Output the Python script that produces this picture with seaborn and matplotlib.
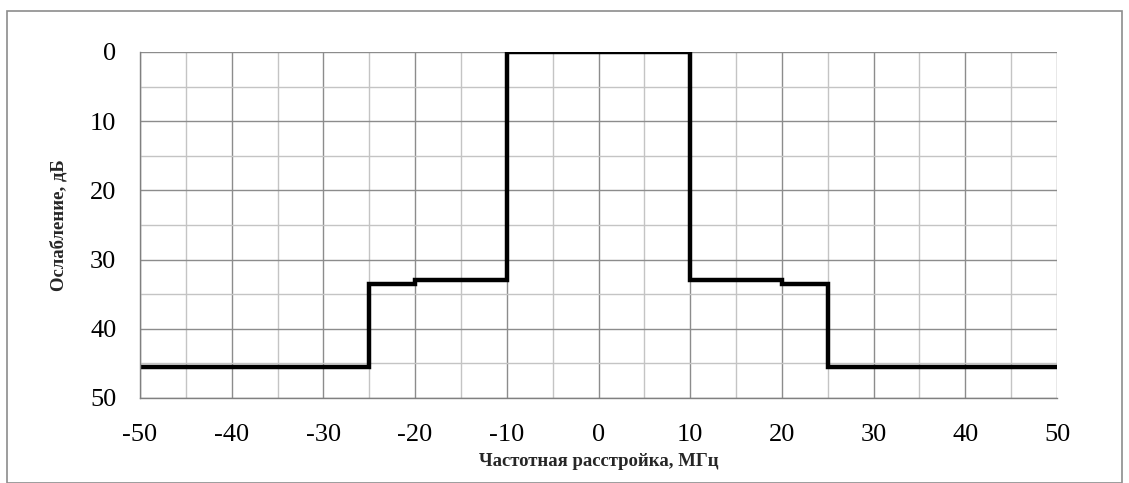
import matplotlib
matplotlib.use("Agg")
import matplotlib.pyplot as plt
import matplotlib.patches as patches
import seaborn as sns
import pandas as pd

# Step mask: frequency edges (MHz) and attenuation (dB) on each segment
freq_edges = [-50, -25, -20, -10, 10, 20, 25, 50]
atten_db = [45.5, 33.5, 33, 0, 33, 33.5, 45.5]

# last value repeated so steps-post draws the final segment
df = pd.DataFrame({"freq": freq_edges, "atten": atten_db + [atten_db[-1]]})

sns.set_theme(style="white")
plt.rcParams['font.family'] = ['Liberation Serif', 'DejaVu Serif']
plt.rcParams['axes.unicode_minus'] = False

fig = plt.figure(figsize=(11.29, 4.83), dpi=100)
ax = fig.add_axes([140 / 1129, 1 - 398 / 483, (1057 - 140) / 1129, (398 - 52) / 483])

sns.lineplot(data=df, x="freq", y="atten", ax=ax, color="black", linewidth=3.2,
             drawstyle="steps-post", sort=False, solid_joinstyle="miter")

ax.set_xlim(-50, 50)
ax.set_ylim(50, 0)
ax.set_xticks(range(-50, 51, 10))
ax.set_yticks(range(0, 51, 10))
ax.set_xticks(range(-45, 50, 10), minor=True)
ax.set_yticks(range(5, 50, 10), minor=True)

ax.grid(True, which="major", color="#8c8c8c", linewidth=1)
ax.grid(True, which="minor", color="#c4c4c4", linewidth=1)
ax.set_axisbelow(True)

for side in ["left", "bottom"]:
    ax.spines[side].set_color("#808080")
    ax.spines[side].set_linewidth(1)
for side in ["top", "right"]:
    ax.spines[side].set_visible(False)

ax.tick_params(axis="both", which="both", length=0, labelsize=19, colors="black")
ax.tick_params(axis="x", pad=19)
ax.tick_params(axis="y", pad=17)

ax.set_xlabel("Частотная расстройка, МГц", fontsize=13.5, fontweight="bold", labelpad=5)
ax.set_ylabel("Ослабление, дБ", fontsize=13.5, fontweight="bold", labelpad=16)

# outer chart border
fig.patches.append(patches.Rectangle((7 / 1129, 0.001), (1122 - 7) / 1129, 1 - 11 / 483 - 0.001,
                                     transform=fig.transFigure, fill=False,
                                     edgecolor="#8c8c8c", linewidth=1.2))

fig.savefig("out.png", dpi=100)
